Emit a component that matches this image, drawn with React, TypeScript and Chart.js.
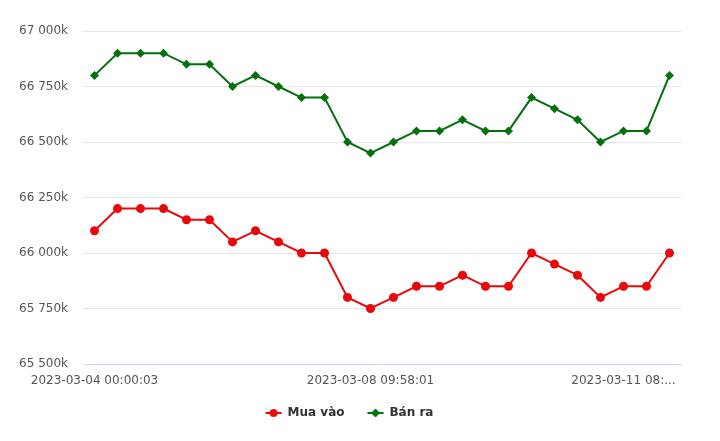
import React, { useEffect, useRef } from "react";
import { Chart, registerables } from "chart.js";

Chart.register(...registerables);

// Category labels (only three are legible in the reference; the rest are unlabeled)
const categories: string[] = [
  "2023-03-04 00:00:03", "", "", "", "", "", "", "", "", "", "", "",
  "2023-03-08 09:58:01", "", "", "", "", "", "", "", "", "",
  "", "2023-03-11 08:...", "", "",
];

// Values in thousands
const buyValues: number[] = [
  66100, 66200, 66200, 66200, 66150, 66150, 66050, 66100, 66050, 66000, 66000, 65800, 65750,
  65800, 65850, 65850, 65900, 65850, 65850, 66000, 65950, 65900, 65800, 65850, 65850, 66000,
];
const sellValues: number[] = [
  66800, 66900, 66900, 66900, 66850, 66850, 66750, 66800, 66750, 66700, 66700, 66500, 66450,
  66500, 66550, 66550, 66600, 66550, 66550, 66700, 66650, 66600, 66500, 66550, 66550, 66800,
];
const seriesNames: string[] = ["Mua vào", "Bán ra"];
const yMin = 65500;
const yMax = 67000;
const yStep = 250;

const RED = "#e80a0a";
const GREEN = "#04700c";
const FONT = "'DejaVu Sans', 'Lucida Grande', sans-serif";

function fmt(v: number): string {
  const th = Math.floor(v / 1000);
  const rest = String(Math.round(v % 1000)).padStart(3, "0");
  return `${th} ${rest}k`;
}

function legendSymbol(color: string, shape: "circle" | "diamond"): HTMLCanvasElement {
  const c = document.createElement("canvas");
  c.width = 18;
  c.height = 12;
  const ctx = c.getContext("2d")!;
  ctx.strokeStyle = color;
  ctx.lineWidth = 2;
  ctx.beginPath();
  ctx.moveTo(1, 6);
  ctx.lineTo(17, 6);
  ctx.stroke();
  ctx.fillStyle = color;
  ctx.beginPath();
  if (shape === "circle") {
    ctx.arc(9, 6, 4, 0, Math.PI * 2);
  } else {
    ctx.moveTo(9, 1.5);
    ctx.lineTo(13.5, 6);
    ctx.lineTo(9, 10.5);
    ctx.lineTo(4.5, 6);
    ctx.closePath();
  }
  ctx.fill();
  return c;
}

export default function App() {
  const ref = useRef<HTMLCanvasElement | null>(null);

  useEffect(() => {
    document.body.style.margin = "0";
    if (!ref.current) return;
    const symbols = [legendSymbol(RED, "circle"), legendSymbol(GREEN, "diamond")];
    const chart = new Chart(ref.current, {
      type: "line",
      data: {
        labels: categories,
        datasets: [
          {
            label: seriesNames[0],
            data: buyValues,
            borderColor: RED,
            backgroundColor: RED,
            borderWidth: 2,
            pointStyle: "circle",
            pointRadius: 4.5,
            pointBorderWidth: 0,
            tension: 0,
          },
          {
            label: seriesNames[1],
            data: sellValues,
            borderColor: GREEN,
            backgroundColor: GREEN,
            borderWidth: 2,
            pointStyle: "rectRot",
            pointRadius: 4.5,
            pointBorderWidth: 0,
            tension: 0,
          },
        ],
      },
      options: {
        animation: false,
        responsive: true,
        maintainAspectRatio: false,
        layout: { padding: { top: 31, right: 39, left: 18, bottom: 12 } },
        plugins: {
          tooltip: { enabled: false },
          legend: {
            position: "bottom",
            labels: {
              usePointStyle: true,
              pointStyleWidth: 16,
              padding: 23,
              color: "#333333",
              font: { family: FONT, size: 12, weight: "bold" },
              generateLabels: (ch: any) =>
                ch.data.datasets.map((ds: any, i: number) => ({
                  text: ds.label,
                  fillStyle: ds.borderColor,
                  strokeStyle: ds.borderColor,
                  lineWidth: 0,
                  pointStyle: symbols[i],
                  hidden: !ch.isDatasetVisible(i),
                  datasetIndex: i,
                  fontColor: "#333333",
                })),
            },
          },
        },
        scales: {
          x: {
            offset: true,
            grid: { display: false, drawTicks: false },
            border: { display: true, color: "#ccd6eb", width: 1 },
            ticks: {
              autoSkip: false,
              maxRotation: 0,
              minRotation: 0,
              padding: 10,
              color: "#555555",
              font: { family: FONT, size: 12 },
              callback: (_v: any, i: number) => categories[i],
            },
            afterFit: (s: any) => {
              s.height = 20;
            },
          },
          y: {
            min: yMin,
            max: yMax,
            grid: {
              drawTicks: false,
              color: (c: any) => (c.tick && c.tick.value === yMin ? "rgba(0,0,0,0)" : "#e6e6e6"),
              lineWidth: 1,
            },
            border: { display: false },
            ticks: {
              stepSize: yStep,
              padding: 15,
              color: "#555555",
              font: { family: FONT, size: 12 },
              callback: (v: any) => fmt(Number(v)),
            },
            afterFit: (s: any) => {
              s.width = 65;
            },
          },
        },
      },
    });
    return () => chart.destroy();
  }, []);

  return (
    <div style={{ position: "fixed", left: 0, top: 0, width: 720, height: 441 }}>
      <canvas ref={ref} />
    </div>
  );
}
